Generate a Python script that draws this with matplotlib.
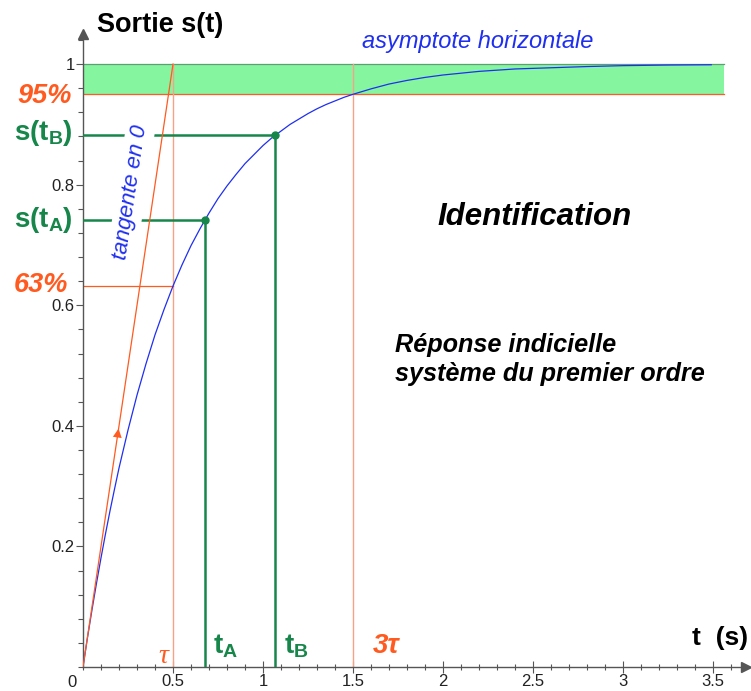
import matplotlib
matplotlib.use("Agg")
import matplotlib.pyplot as plt
from matplotlib.ticker import MultipleLocator, FuncFormatter

plt.rcParams['font.family'] = ['Liberation Sans', 'DejaVu Sans']
plt.rcParams['mathtext.fontset'] = 'custom'
plt.rcParams['mathtext.rm'] = 'Liberation Sans'
plt.rcParams['mathtext.bf'] = 'Liberation Sans:bold'
plt.rcParams['mathtext.it'] = 'Liberation Sans:italic'

# courbe s(t)
t_curve = [0, 0.025, 0.05, 0.075, 0.1, 0.125, 0.15, 0.175, 0.2, 0.25, 0.3,
           0.35, 0.4, 0.45, 0.5, 0.55, 0.6, 0.65, 0.7, 0.75, 0.8, 0.85, 0.9,
           0.95, 1.0, 1.05, 1.1, 1.15, 1.2, 1.25, 1.3, 1.35, 1.4, 1.45, 1.5,
           1.6, 1.7, 1.8, 1.9, 2.0, 2.2, 2.4, 2.6, 2.8, 3.0, 3.25, 3.49]
s_curve = [0, 0.049, 0.095, 0.139, 0.181, 0.221, 0.259, 0.295, 0.330, 0.393,
           0.451, 0.503, 0.551, 0.593, 0.632, 0.667, 0.699, 0.727, 0.753,
           0.777, 0.798, 0.817, 0.835, 0.850, 0.865, 0.878, 0.889, 0.900,
           0.909, 0.918, 0.926, 0.933, 0.939, 0.945, 0.950, 0.959, 0.967,
           0.973, 0.978, 0.982, 0.988, 0.992, 0.994, 0.996, 0.9975, 0.9985,
           0.999]

tau = 0.5
t_3tau = 1.5
s_63 = 0.632
s_95 = 0.95
s_final = 1.0
band_end = 3.56
t_A, s_A = 0.676, 0.742
t_B, s_B = 1.067, 0.882
arrow_t, arrow_s = 0.20, 0.40

x_ticks = [0.5, 1, 1.5, 2, 2.5, 3, 3.5]
y_ticks = [0.2, 0.4, 0.6, 0.8, 1]

ORANGE = '#ff5a1f'
LIGHT_OR = '#f5a387'
GREEN = '#16864a'
BLUE = '#1f2ff0'
BAND = '#86f5a0'
AXC = '#555555'

fig = plt.figure(figsize=(7.51, 6.91), dpi=100)
ax = fig.add_axes([83 / 751, 24 / 691, 663 / 751, 633 / 691])
ax.set_xlim(0, 3.683)
ax.set_ylim(0, 1.05)

# bande des 5 %
ax.fill_between([0, band_end], s_95, s_final, color=BAND, lw=0, zorder=1)
ax.plot([0, band_end], [s_final, s_final], color='#5d9e72', lw=0.9, zorder=2)
ax.plot([0, band_end], [s_95, s_95], color=ORANGE, lw=0.9, zorder=2)

# constructions tau / 3 tau
ax.plot([tau, tau], [0, s_final], color=LIGHT_OR, lw=1.0, zorder=2)
ax.plot([t_3tau, t_3tau], [0, s_final], color=LIGHT_OR, lw=1.0, zorder=2)
ax.plot([0, tau], [s_63, s_63], color=ORANGE, lw=0.9, zorder=2)

# points A et B
ax.plot([t_A, t_A, 0], [0, s_A, s_A], color=GREEN, lw=1.8, zorder=3)
ax.plot([t_B, t_B, 0], [0, s_B, s_B], color=GREEN, lw=1.8, zorder=3)

# réponse
ax.plot(t_curve, s_curve, color=BLUE, lw=0.9, zorder=4)
ax.plot([t_A, t_B], [s_A, s_B], 'o', color=GREEN, ms=5, zorder=6)

# tangente à l'origine
ax.text(0.267, 0.788, 'tangente en 0', rotation=81.5, color=BLUE, fontsize=16,
        style='italic', ha='center', va='center', rotation_mode='anchor',
        bbox=dict(facecolor='white', edgecolor='none', pad=3), zorder=4.5)
ax.plot([0, tau], [0, s_final], color=ORANGE, lw=0.9, zorder=5)
ax.annotate('', xy=(arrow_t, arrow_s), xytext=(arrow_t - 0.01, arrow_s - 0.02),
            arrowprops=dict(arrowstyle='-|>', color=ORANGE, lw=0,
                            mutation_scale=16), zorder=5)

# axes avec flèches
for side in ['top', 'right']:
    ax.spines[side].set_visible(False)
for side in ['left', 'bottom']:
    ax.spines[side].set_color(AXC)
    ax.spines[side].set_linewidth(1.0)
ax.plot(1, 0, '>', color=AXC, ms=7, transform=ax.transAxes, clip_on=False)
ax.plot(0, 1, '^', color=AXC, ms=7, transform=ax.transAxes, clip_on=False)

ax.set_xticks(x_ticks)
ax.set_yticks(y_ticks)
ax.xaxis.set_minor_locator(MultipleLocator(0.1))
ax.yaxis.set_minor_locator(MultipleLocator(0.04))
fmt = FuncFormatter(lambda v, p: f'{v:g}')
ax.xaxis.set_major_formatter(fmt)
ax.yaxis.set_major_formatter(fmt)
ax.tick_params(axis='x', which='major', direction='inout', length=8, width=0.8,
               color=AXC, labelsize=12, labelcolor='#222222', pad=1)
ax.tick_params(axis='x', which='minor', direction='inout', length=5, width=0.8,
               color=AXC)
ax.tick_params(axis='y', which='major', direction='out', length=5, width=0.8,
               color=AXC, labelsize=12, labelcolor='#222222', pad=1)
ax.tick_params(axis='y', which='minor', direction='out', length=3.5, width=0.8,
               color=AXC)
ax.annotate('0', xy=(0, 0), xytext=(-8, -11), textcoords='offset points',
            ha='center', va='center', fontsize=12, color='#222222',
            annotation_clip=False)

# textes
ax.text(0.078, 1.065, 'Sortie s(t)', fontsize=19.5, fontweight='bold',
        ha='left', va='center', clip_on=False)
ax.text(1.55, 1.026, 'asymptote horizontale', fontsize=17, style='italic',
        color=BLUE, ha='left', va='baseline')
ax.text(1.967, 0.733, 'Identification', fontsize=22.5, fontweight='bold',
        style='italic', ha='left', va='baseline')
ax.text(1.733, 0.522, 'Réponse indicielle', fontsize=18.2, fontweight='bold',
        style='italic', ha='left', va='baseline')
ax.text(1.733, 0.474, 'système du premier ordre', fontsize=18.2,
        fontweight='bold', style='italic', ha='left', va='baseline')

ax.text(-0.061, 0.935, '95%', fontsize=19.5, fontweight='bold', style='italic',
        color=ORANGE, ha='right', va='baseline', clip_on=False)
ax.text(-0.083, 0.622, '63%', fontsize=19.5, fontweight='bold', style='italic',
        color=ORANGE, ha='right', va='baseline', clip_on=False)
ax.text(-0.056, 0.874, r'$\mathbf{s(t_B)}$', fontsize=20, color=GREEN,
        ha='right', va='baseline', clip_on=False)
ax.text(-0.056, 0.730, r'$\mathbf{s(t_A)}$', fontsize=20, color=GREEN,
        ha='right', va='baseline', clip_on=False)

ax.text(0.444, 0.007, 'τ', fontsize=20, style='italic', color=ORANGE,
        family='Liberation Serif', ha='center', va='baseline')
ax.text(0.722, 0.0216, r'$\mathbf{t_A}$', fontsize=20, color=GREEN,
        ha='left', va='baseline')
ax.text(1.117, 0.0216, r'$\mathbf{t_B}$', fontsize=20, color=GREEN,
        ha='left', va='baseline')
ax.text(1.61, 0.023, '3τ', fontsize=20, fontweight='bold', style='italic',
        color=ORANGE, ha='left', va='baseline')
ax.text(3.694, 0.036, 't  (s)', fontsize=19, fontweight='bold',
        ha='right', va='baseline', clip_on=False)

fig.savefig('out.png', dpi=100)
